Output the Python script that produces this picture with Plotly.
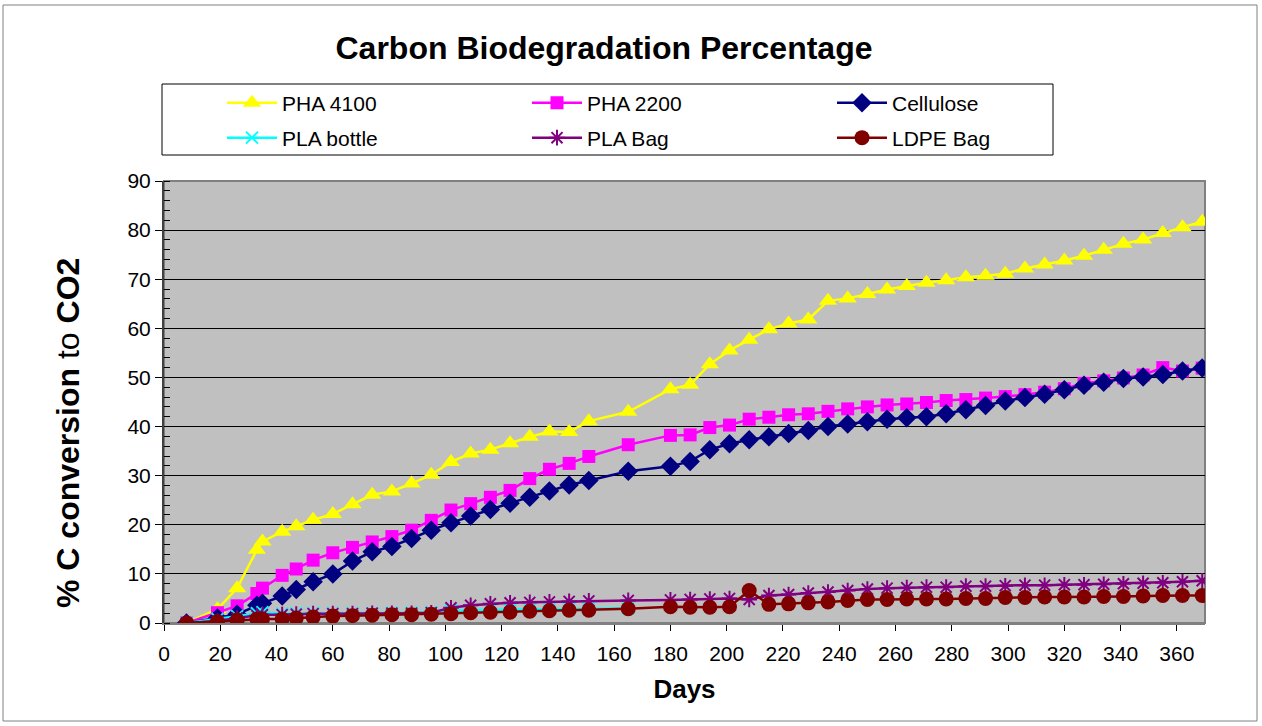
import plotly.graph_objects as go

days = [8, 19, 26, 33, 35, 42, 47, 53, 60, 67, 74, 81, 88, 95, 102, 109, 116, 123, 130, 137,
        144, 151, 165, 180, 187, 194, 201, 208, 215, 222, 229, 236, 243, 250, 257, 264, 271,
        278, 285, 292, 299, 306, 313, 320, 327, 334, 341, 348, 355, 362, 369]

pha4100 = [0, 2.8, 7.1, 14.9, 16.6, 18.6, 19.7, 21.0, 22.2, 24.2, 26.1, 26.8, 28.4, 30.2, 32.8,
           34.5, 35.3, 36.6, 37.9, 39.0, 38.9, 41.1, 43.0, 47.6, 48.5, 52.7, 55.5, 57.7, 59.8,
           61.0, 61.8, 65.6, 66.1, 67.0, 67.9, 68.6, 69.3, 69.8, 70.4, 70.7, 71.1, 72.2, 73.0,
           73.8, 74.8, 76.0, 77.2, 78.1, 79.4, 80.6, 81.7]

pha2200 = [0, 2.1, 3.5, 6.0, 7.1, 9.7, 11.0, 12.8, 14.3, 15.4, 16.5, 17.6, 18.9, 20.9, 23.0,
           24.3, 25.6, 27.0, 29.4, 31.3, 32.5, 33.9, 36.3, 38.2, 38.3, 39.8, 40.3, 41.5, 41.9,
           42.4, 42.6, 43.1, 43.6, 44.0, 44.4, 44.6, 44.9, 45.3, 45.5, 45.8, 46.1, 46.5, 47.0,
           47.7, 48.8, 49.3, 49.9, 50.5, 52.0, 51.3, 51.9]

cellulose = [0, 1.0, 1.8, 3.6, 4.0, 5.5, 6.8, 8.4, 10.0, 12.6, 14.5, 15.6, 17.2, 18.9, 20.4,
             21.8, 23.1, 24.4, 25.6, 26.9, 28.1, 29.0, 30.9, 31.9, 32.9, 35.3, 36.5, 37.3, 37.9,
             38.6, 39.2, 40.0, 40.5, 41.0, 41.5, 41.8, 42.0, 42.6, 43.4, 44.3, 45.2, 45.9, 46.6,
             47.5, 48.4, 49.0, 49.8, 50.1, 50.6, 51.3, 51.9]

pla_bottle = [0, 0.8, 1.4, 2.0, 2.2, 1.9, 2.0, 2.0, 2.0, 2.0, 2.0, 2.1, 2.1, 2.2, 2.5,
              2.6, 2.7, 2.7, 2.8, 2.8, 2.9, 2.9, 3.0]

pla_bag = [0, 0.4, 1.0, 1.5, 1.7, 1.7, 1.8, 1.9, 1.9, 1.9, 2.0, 2.0, 2.0, 2.1, 3.1,
           3.6, 3.9, 4.1, 4.2, 4.3, 4.4, 4.5, 4.6, 4.7, 4.8, 4.9, 5.0, 4.8, 5.6,
           5.8, 6.1, 6.3, 6.6, 6.9, 7.1, 7.2, 7.3, 7.3, 7.5, 7.5, 7.6, 7.7, 7.7,
           7.8, 7.8, 7.9, 8.0, 8.1, 8.2, 8.4, 8.6]

ldpe_bag = [0, 0.3, 0.6, 0.8, 0.8, 0.8, 1.0, 1.2, 1.4, 1.5, 1.6, 1.7, 1.7, 1.8, 1.9,
            2.1, 2.2, 2.2, 2.4, 2.5, 2.6, 2.6, 2.9, 3.3, 3.2, 3.2, 3.3, 6.6, 3.8,
            3.9, 4.1, 4.3, 4.6, 4.8, 4.8, 4.9, 4.9, 4.9, 5.0, 5.0, 5.2, 5.2, 5.3,
            5.3, 5.3, 5.4, 5.4, 5.5, 5.6, 5.6, 5.6]

FONT = "Liberation Sans, Arial, sans-serif"
W, H = 1262, 726
L, R, T, B = 164, 1205, 181, 623  # plot area in pixels


def px_x(p):
    return (p - L) / (R - L)


def px_y(p):
    return (B - p) / (B - T)


fig = go.Figure()

series = [
    ("PHA 4100", days, pha4100, "#FFFF00", "triangle-up", 16, 0, "legend"),
    ("PHA 2200", days, pha2200, "#FF00FF", "square", 13, 0, "legend"),
    ("Cellulose", days, cellulose, "#000080", "diamond", 15, 0, "legend"),
    ("PLA bottle", days[:len(pla_bottle)], pla_bottle, "#00FFFF", "x-thin-open", 12, 2, "legend2"),
    ("PLA Bag", days, pla_bag, "#800080", "asterisk-open", 13, 2, "legend2"),
    ("LDPE Bag", days, ldpe_bag, "#800000", "circle", 15, 0, "legend2"),
]

for name, xs, ys, col, sym, sz, lw, lg in series:
    mk = dict(symbol=sym, size=sz, color=col)
    if lw:
        mk["line"] = dict(color=col, width=lw)
    else:
        mk["line"] = dict(width=0)
    fig.add_trace(go.Scatter(x=xs, y=ys, name=name, mode="lines+markers", legend=lg,
                             line=dict(color=col, width=2.5), marker=mk))

shapes = [
    dict(type="rect", xref="paper", yref="paper", x0=px_x(3), x1=px_x(1257),
         y0=px_y(721), y1=px_y(5), line=dict(color="#808080", width=1), layer="below"),
    dict(type="rect", xref="paper", yref="paper", x0=px_x(162), x1=px_x(1053),
         y0=px_y(155), y1=px_y(84), line=dict(color="black", width=1),
         fillcolor="white", layer="below"),
    dict(type="rect", xref="paper", yref="paper", x0=0, x1=1, y0=0, y1=1,
         line=dict(color="#808080", width=2), layer="below"),
]

legend_common = dict(orientation="h", xanchor="left", yanchor="middle",
                     bgcolor="rgba(0,0,0,0)", borderwidth=0, itemwidth=50,
                     entrywidth=240, entrywidthmode="pixels",
                     font=dict(size=21, family=FONT), traceorder="normal")

fig.update_layout(
    width=W, height=H,
    margin=dict(l=L, r=W - R, t=T, b=H - B),
    paper_bgcolor="white",
    plot_bgcolor="#C0C0C0",
    font=dict(family=FONT, color="black", size=21),
    title=dict(text="<b>Carbon Biodegradation Percentage</b>", x=604 / W, xanchor="center",
               y=1 - 48 / H, yanchor="middle", xref="container", yref="container",
               font=dict(size=32, family=FONT)),
    showlegend=True,
    legend=dict(x=px_x(222), y=px_y(103), **legend_common),
    legend2=dict(x=px_x(222), y=px_y(138), **legend_common),
    shapes=shapes,
    annotations=[
        dict(text="<b>% C conversion</b> to <b>CO2</b>", textangle=-90,
             xref="paper", yref="paper", x=px_x(68), y=px_y(433),
             xanchor="center", yanchor="middle", showarrow=False,
             font=dict(size=32, family=FONT, color="black")),
    ],
)

fig.update_xaxes(
    range=[0, 370], tickmode="linear", tick0=0, dtick=20,
    showgrid=False, zeroline=False,
    showline=True, linecolor="#808080", linewidth=2,
    ticks="outside", ticklen=6, tickcolor="black", tickwidth=1,
    ticklabelstandoff=5,
    tickfont=dict(size=21, family=FONT),
    title=dict(text="<b>Days</b>", font=dict(size=26, family=FONT), standoff=16),
)

fig.update_yaxes(
    range=[0, 90], tickmode="linear", tick0=0, dtick=10,
    showgrid=True, gridcolor="black", gridwidth=1,
    zeroline=False,
    showline=True, linecolor="#404040", linewidth=2,
    ticks="outside", ticklen=7, tickcolor="black", tickwidth=1,
    minor=dict(ticks="inside", dtick=2, ticklen=6, tickcolor="black", tickwidth=1, showgrid=False),
    tickfont=dict(size=21, family=FONT),
)

fig.write_html("out.html")
